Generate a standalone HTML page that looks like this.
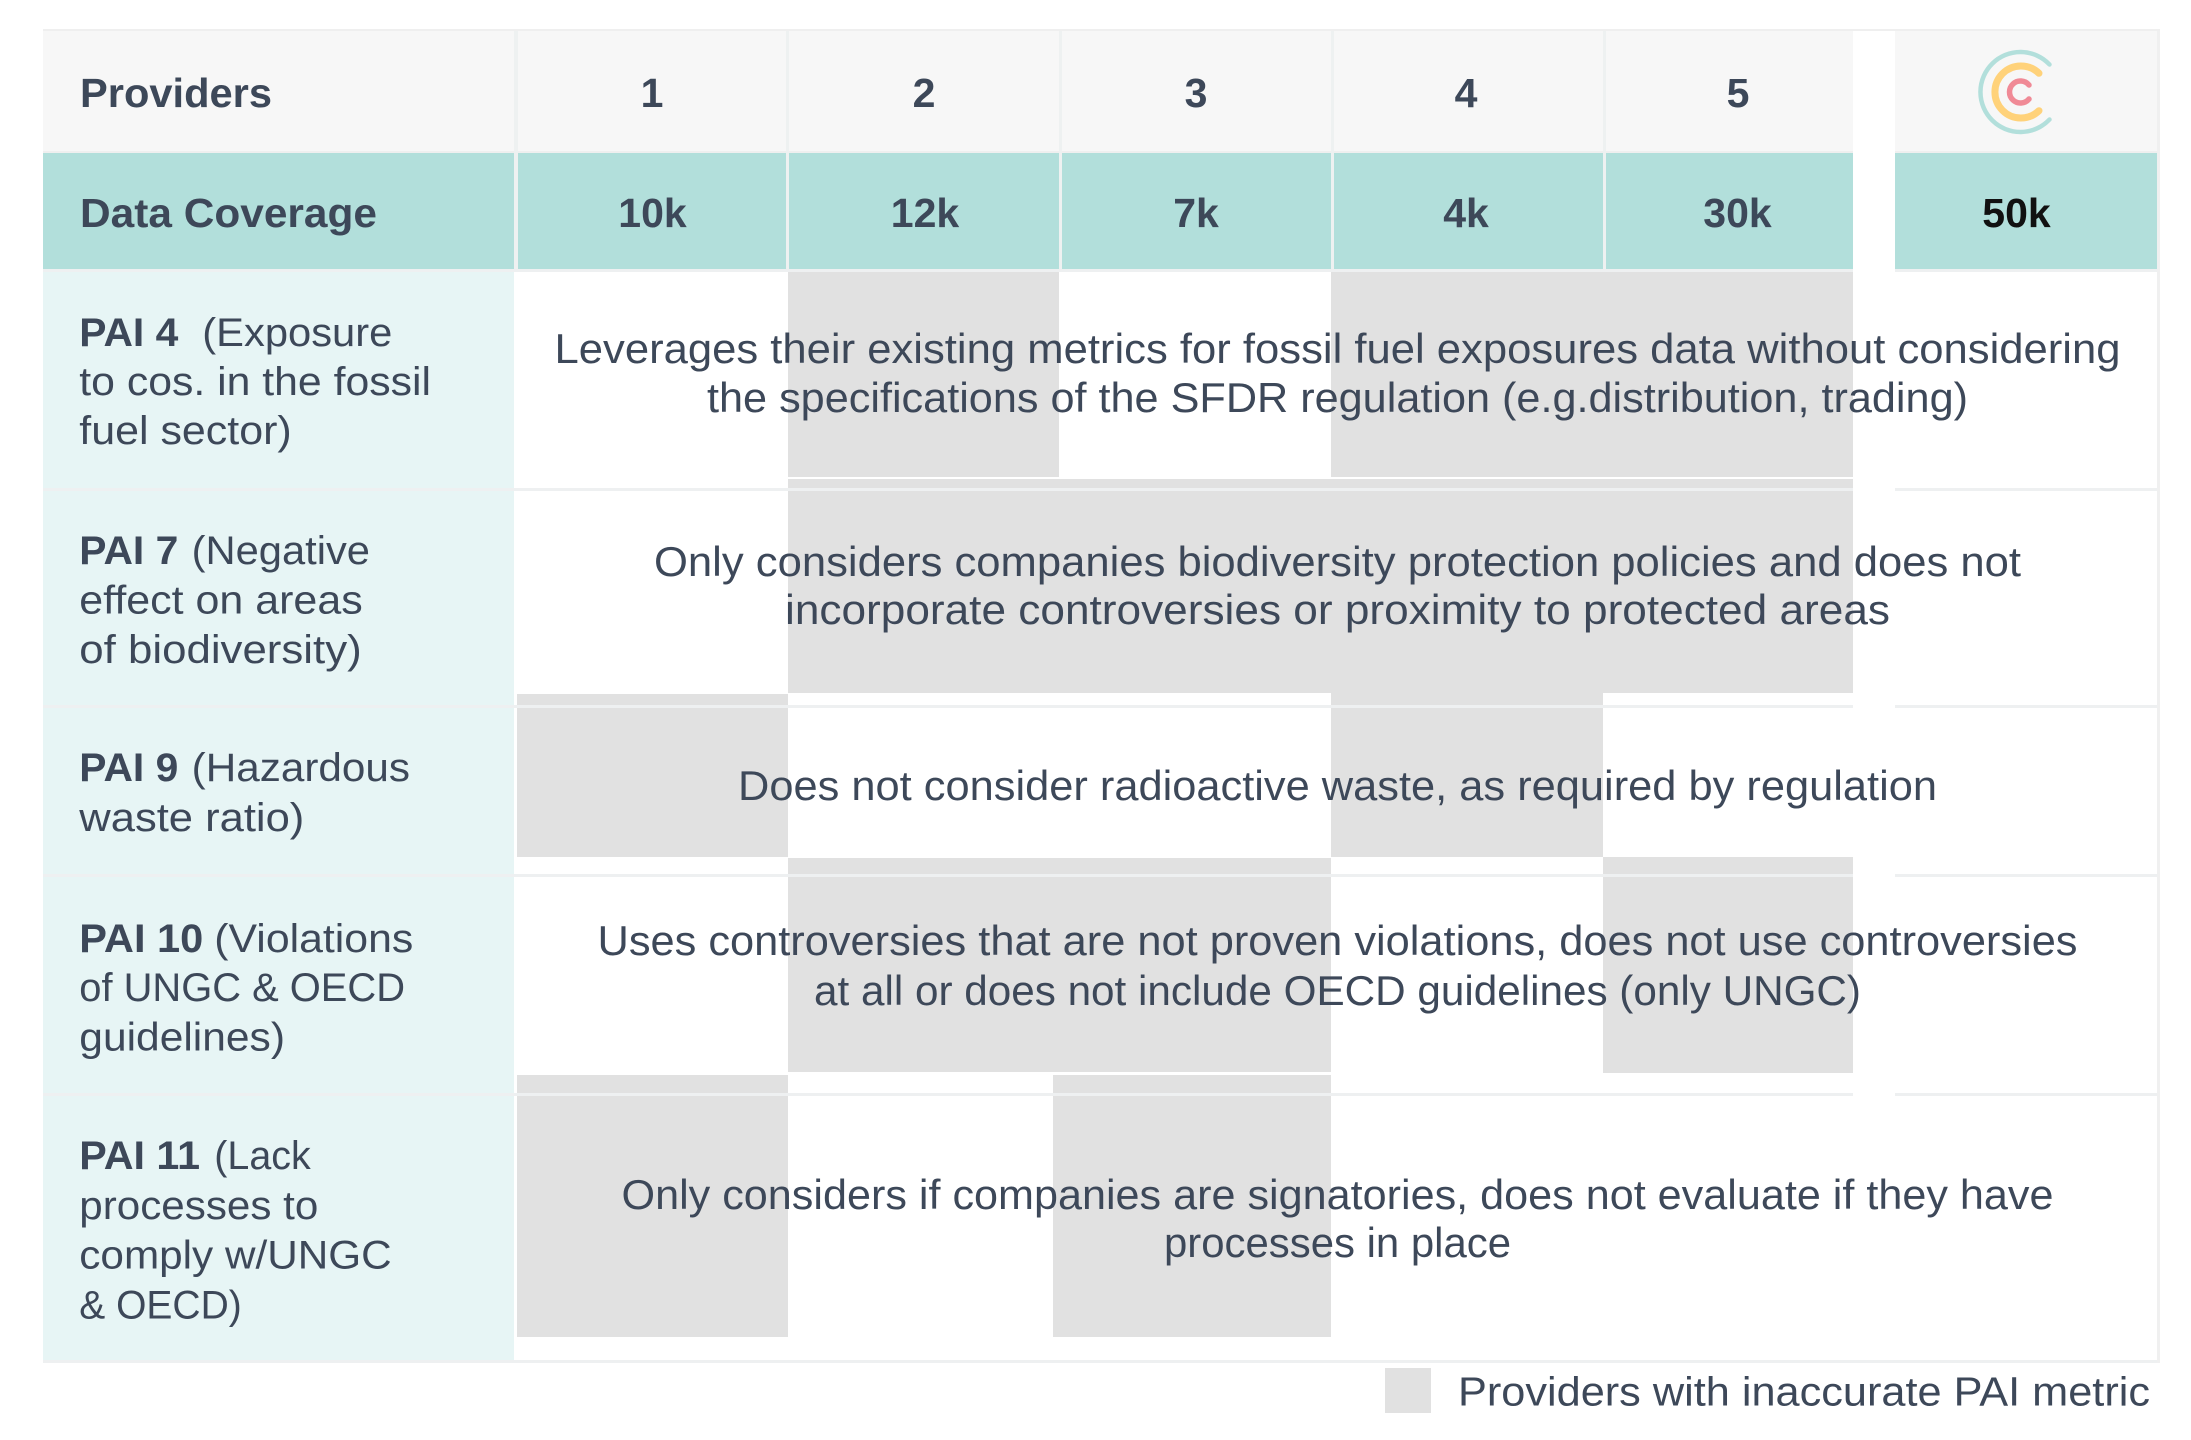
<!DOCTYPE html>
<html>
<head>
<meta charset="utf-8">
<style>
  html, body { margin: 0; padding: 0; background: #ffffff; }
  svg { display: block; }
  .t { font-family: "Liberation Sans", Arial, sans-serif; fill: #3d4859; }
  .b { font-weight: bold; }
</style>
</head>
<body>
<svg width="2191" height="1440" viewBox="0 0 2191 1440" xmlns="http://www.w3.org/2000/svg">
  <rect x="0" y="0" width="2191" height="1440" fill="#ffffff"/>

  <!-- outer top border -->
  <rect x="43" y="29" width="2117" height="2" fill="#efefef"/>

  <!-- header row -->
  <rect x="43" y="31" width="1810" height="120" fill="#f7f7f7"/>
  <rect x="1895" y="31" width="262" height="120" fill="#f7f7f7"/>
  <rect x="43" y="151" width="1810" height="2" fill="#efefef"/>
  <rect x="1895" y="151" width="262" height="2" fill="#efefef"/>

  <!-- data coverage row -->
  <rect x="43" y="153" width="1810" height="116" fill="#b2dfdb"/>
  <rect x="1895" y="153" width="262" height="116" fill="#b2dfdb"/>

  <!-- header / coverage vertical dividers -->
  <g fill="#eef1f1">
    <rect x="514" y="31" width="4" height="238"/>
    <rect x="786" y="31" width="3" height="238"/>
    <rect x="1059" y="31" width="3" height="238"/>
    <rect x="1331" y="31" width="3" height="238"/>
    <rect x="1603" y="31" width="3" height="238"/>
  </g>

  <!-- left label column body -->
  <rect x="43" y="272" width="471" height="1091" fill="#e7f5f5"/>

  <!-- gray blocks (providers with inaccurate PAI metric) -->
  <g fill="#e1e1e1">
    <!-- PAI 4 -->
    <rect x="788" y="272" width="271" height="205"/>
    <rect x="1331" y="272" width="522" height="205"/>
    <!-- PAI 7 -->
    <rect x="788" y="479" width="1065" height="214"/>
    <!-- PAI 9 -->
    <rect x="517" y="694" width="271" height="163"/>
    <rect x="1331" y="693" width="272" height="164"/>
    <!-- PAI 10 -->
    <rect x="788" y="858" width="543" height="214"/>
    <rect x="1603" y="857" width="250" height="216"/>
    <!-- PAI 11 -->
    <rect x="517" y="1075" width="271" height="262"/>
    <rect x="1053" y="1075" width="278" height="262"/>
  </g>

  <!-- row separators -->
  <g fill="#eef0f1">
    <rect x="43" y="269" width="1810" height="3"/>
    <rect x="1895" y="269" width="262" height="3"/>
    <rect x="43" y="488" width="1810" height="3"/>
    <rect x="1895" y="488" width="262" height="3"/>
    <rect x="43" y="705" width="1810" height="3"/>
    <rect x="1895" y="705" width="262" height="3"/>
    <rect x="43" y="874" width="1810" height="3"/>
    <rect x="1895" y="874" width="262" height="3"/>
    <rect x="43" y="1093" width="1810" height="3"/>
    <rect x="1895" y="1093" width="262" height="3"/>
    <rect x="43" y="1360" width="2117" height="3"/>
  </g>

  <!-- right border -->
  <rect x="2157" y="31" width="3" height="1332" fill="#f0f0f0"/>

  <!-- header text -->
  <text class="t b" x="80" y="107" font-size="41" textLength="192" lengthAdjust="spacingAndGlyphs">Providers</text>
  <text class="t b" x="652" y="107" font-size="41" text-anchor="middle">1</text>
  <text class="t b" x="924" y="107" font-size="41" text-anchor="middle">2</text>
  <text class="t b" x="1196" y="107" font-size="41" text-anchor="middle">3</text>
  <text class="t b" x="1466" y="107" font-size="41" text-anchor="middle">4</text>
  <text class="t b" x="1738" y="107" font-size="41" text-anchor="middle">5</text>

  <!-- logo -->
  <g fill="none" stroke-linecap="round">
    <path d="M 2049.5 64.5 A 40 40 0 1 0 2049.5 119.5" stroke="#b2dfdb" stroke-width="4.5"/>
    <path d="M 2039 73.3 A 26 26 0 1 0 2039 110.7" stroke="#ffd27a" stroke-width="7"/>
    <path d="M 2029 85 A 11 11 0 1 0 2029 99" stroke="#f08a96" stroke-width="5.5"/>
  </g>

  <!-- coverage text -->
  <text class="t b" x="80" y="227" font-size="41" textLength="297" lengthAdjust="spacingAndGlyphs">Data Coverage</text>
  <text class="t b" x="652.5" y="227" font-size="41" text-anchor="middle">10k</text>
  <text class="t b" x="925" y="227" font-size="41" text-anchor="middle">12k</text>
  <text class="t b" x="1196" y="227" font-size="41" text-anchor="middle">7k</text>
  <text class="t b" x="1466" y="227" font-size="41" text-anchor="middle">4k</text>
  <text class="t b" x="1737.5" y="227" font-size="41" text-anchor="middle">30k</text>
  <text class="b" x="2016.5" y="227" font-size="41" text-anchor="middle" font-family="Liberation Sans, Arial, sans-serif" fill="#111111">50k</text>

  <!-- left labels -->
  <g font-size="40">
    <!-- PAI 4 -->
    <text class="t b" x="79.3" y="346" textLength="99" lengthAdjust="spacingAndGlyphs">PAI 4</text>
    <text class="t" x="202.3" y="346" textLength="190" lengthAdjust="spacingAndGlyphs">(Exposure</text>
    <text class="t" x="79.3" y="395" textLength="351.7" lengthAdjust="spacingAndGlyphs">to cos. in the fossil</text>
    <text class="t" x="79.3" y="444" textLength="212.4" lengthAdjust="spacingAndGlyphs">fuel sector)</text>
    <!-- PAI 7 -->
    <text class="t b" x="79.3" y="564" textLength="99" lengthAdjust="spacingAndGlyphs">PAI 7</text>
    <text class="t" x="191.7" y="564" textLength="178.3" lengthAdjust="spacingAndGlyphs">(Negative</text>
    <text class="t" x="79.3" y="613.5" textLength="283.4" lengthAdjust="spacingAndGlyphs">effect on areas</text>
    <text class="t" x="79.3" y="663" textLength="282.4" lengthAdjust="spacingAndGlyphs">of biodiversity)</text>
    <!-- PAI 9 -->
    <text class="t b" x="79.3" y="781" textLength="99" lengthAdjust="spacingAndGlyphs">PAI 9</text>
    <text class="t" x="191.7" y="781" textLength="218.3" lengthAdjust="spacingAndGlyphs">(Hazardous</text>
    <text class="t" x="79.3" y="831" textLength="225" lengthAdjust="spacingAndGlyphs">waste ratio)</text>
    <!-- PAI 10 -->
    <text class="t b" x="79.3" y="952" textLength="124" lengthAdjust="spacingAndGlyphs">PAI 10</text>
    <text class="t" x="214.3" y="952" textLength="199" lengthAdjust="spacingAndGlyphs">(Violations</text>
    <text class="t" x="79.3" y="1001" textLength="325.7" lengthAdjust="spacingAndGlyphs">of UNGC &amp; OECD</text>
    <text class="t" x="79.3" y="1050.5" textLength="205.7" lengthAdjust="spacingAndGlyphs">guidelines)</text>
    <!-- PAI 11 -->
    <text class="t b" x="79.3" y="1169" textLength="120.7" lengthAdjust="spacingAndGlyphs">PAI 11</text>
    <text class="t" x="214.3" y="1169" textLength="96.4" lengthAdjust="spacingAndGlyphs">(Lack</text>
    <text class="t" x="79.3" y="1219" textLength="239" lengthAdjust="spacingAndGlyphs">processes to</text>
    <text class="t" x="79.3" y="1268.5" textLength="312.4" lengthAdjust="spacingAndGlyphs">comply w/UNGC</text>
    <text class="t" x="79.3" y="1318.5" textLength="162.4" lengthAdjust="spacingAndGlyphs">&amp; OECD)</text>
  </g>

  <!-- descriptions -->
  <g font-size="42">
    <text class="t" x="554.5" y="363" textLength="1566" lengthAdjust="spacingAndGlyphs">Leverages their existing metrics for fossil fuel exposures data without considering</text>
    <text class="t" x="707" y="412" textLength="1261" lengthAdjust="spacingAndGlyphs">the specifications of the SFDR regulation (e.g.distribution, trading)</text>

    <text class="t" x="654" y="576" textLength="1367" lengthAdjust="spacingAndGlyphs">Only considers companies biodiversity protection policies and does not</text>
    <text class="t" x="785" y="624" textLength="1105" lengthAdjust="spacingAndGlyphs">incorporate controversies or proximity to protected areas</text>

    <text class="t" x="738" y="800" textLength="1199" lengthAdjust="spacingAndGlyphs">Does not consider radioactive waste, as required by regulation</text>

    <text class="t" x="597.5" y="955" textLength="1480" lengthAdjust="spacingAndGlyphs">Uses controversies that are not proven violations, does not use controversies</text>
    <text class="t" x="814" y="1005" textLength="1047" lengthAdjust="spacingAndGlyphs">at all or does not include OECD guidelines (only UNGC)</text>

    <text class="t" x="621.5" y="1209" textLength="1432" lengthAdjust="spacingAndGlyphs">Only considers if companies are signatories, does not evaluate if they have</text>
    <text class="t" x="1164" y="1257" textLength="347" lengthAdjust="spacingAndGlyphs">processes in place</text>
  </g>

  <!-- legend -->
  <rect x="1385" y="1368" width="46" height="45" fill="#e1e1e1"/>
  <text class="t" x="1458" y="1405.5" font-size="41" textLength="692" lengthAdjust="spacingAndGlyphs">Providers with inaccurate PAI metric</text>
</svg>
</body>
</html>
